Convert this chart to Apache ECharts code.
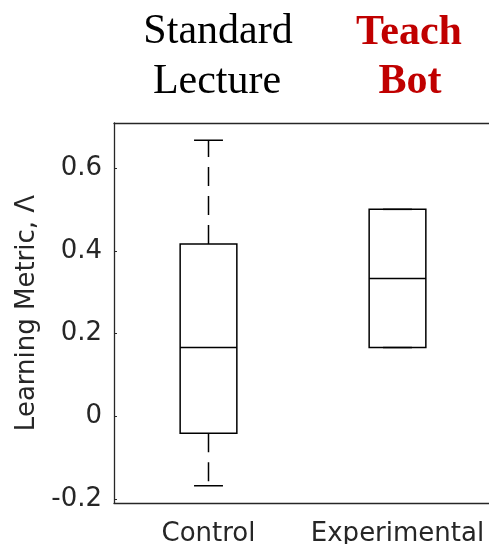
<!DOCTYPE html>
<html>
<head>
<meta charset="utf-8">
<script src="https://cdn.jsdelivr.net/npm/echarts@6/dist/echarts.min.js"></script>
<style>html,body{margin:0;padding:0;background:#fff;}#c{width:489px;height:544px;}</style>
</head>
<body>
<div id="c"></div>
<script>
// Data
var categories = ['Control', 'Experimental'];
var mins    = [-0.1667, 0.1667];
var q1s     = [-0.04,   0.1667];
var medians = [0.1667,  0.3333];
var q3s     = [0.4167,  0.5];
var maxs    = [0.6667,  0.5];
var yTicks  = [-0.2, 0, 0.2, 0.4, 0.6];
var yMin = -0.2083, yMax = 0.7083;

var data = categories.map(function (c, i) {
  return [i, mins[i], q1s[i], medians[i], q3s[i], maxs[i]];
});

var chart = echarts.init(document.getElementById('c'), null, {renderer: 'canvas'});
var axisColor = '#262626';
var font = 'DejaVu Sans';

function renderItem(params, api) {
  var i = api.value(0);
  var vMin = api.value(1), vQ1 = api.value(2), vMed = api.value(3), vQ3 = api.value(4), vMax = api.value(5);
  var x = api.coord([i, vMed])[0];
  var band = api.size([1, 0])[0];
  var bw = band * 0.3, cw = band * 0.153;
  var yMinP = api.coord([i, vMin])[1];
  var yQ1 = api.coord([i, vQ1])[1];
  var yMed = api.coord([i, vMed])[1];
  var yQ3 = api.coord([i, vQ3])[1];
  var yMaxP = api.coord([i, vMax])[1];
  var solid = {stroke: '#000', lineWidth: 1.5, fill: null};
  var dashed = {stroke: '#000', lineWidth: 1.5, lineDash: [19, 10]};
  var children = [];
  if (yQ3 - yMaxP > 0.5) {
    children.push({type: 'line', shape: {x1: x, y1: yQ3, x2: x, y2: yMaxP}, style: dashed});
  }
  if (yMinP - yQ1 > 0.5) {
    children.push({type: 'line', shape: {x1: x, y1: yQ1, x2: x, y2: yMinP}, style: dashed});
  }
  children.push({type: 'line', shape: {x1: x - cw / 2, y1: yMaxP, x2: x + cw / 2, y2: yMaxP}, style: solid});
  children.push({type: 'line', shape: {x1: x - cw / 2, y1: yMinP, x2: x + cw / 2, y2: yMinP}, style: solid});
  children.push({type: 'rect', shape: {x: x - bw / 2, y: yQ3, width: bw, height: yQ1 - yQ3}, style: {stroke: '#000', lineWidth: 1.5, fill: 'rgba(0,0,0,0)'}});
  children.push({type: 'line', shape: {x1: x - bw / 2, y1: yMed, x2: x + bw / 2, y2: yMed}, style: solid});
  return {type: 'group', children: children};
}

var option = {
  backgroundColor: '#fff',
  animation: false,
  grid: {left: 114, top: 123, width: 378, height: 380, containLabel: false, outerBoundsMode: 'none'},
  xAxis: [{
    type: 'category', data: categories, position: 'bottom',
    axisLine: {onZero: false, lineStyle: {color: axisColor, width: 1.3}},
    axisTick: {inside: true, length: 3, alignWithLabel: true, lineStyle: {color: axisColor}},
    axisLabel: {color: axisColor, fontFamily: font, fontSize: 26, margin: 18, interval: 0, hideOverlap: false},
    splitLine: {show: false}
  }, {
    type: 'category', data: categories, position: 'top',
    axisLine: {onZero: false, lineStyle: {color: axisColor, width: 1.3}},
    axisTick: {inside: true, length: 3, alignWithLabel: true, lineStyle: {color: axisColor}},
    axisLabel: {show: false}, splitLine: {show: false}
  }],
  yAxis: [{
    type: 'value', min: yMin, max: yMax, position: 'left',
    axisLine: {show: true, onZero: false, lineStyle: {color: axisColor, width: 1.3}},
    axisTick: {show: true, inside: true, length: 3, lineStyle: {color: axisColor},
      customValues: yTicks},
    axisLabel: {color: axisColor, fontFamily: font, fontSize: 26, margin: 12,
      customValues: yTicks,
      formatter: function (v) { return Math.abs(v) < 1e-9 ? '0' : String(Math.round(v * 10) / 10); }},
    splitLine: {show: false},
    name: 'Learning Metric, Λ', nameLocation: 'middle', nameGap: 73,
    nameTextStyle: {color: axisColor, fontFamily: font, fontSize: 26}
  }, {
    type: 'value', min: yMin, max: yMax, position: 'right',
    axisLine: {show: true, onZero: false, lineStyle: {color: axisColor, width: 1.3}},
    axisTick: {show: true, inside: true, length: 3, lineStyle: {color: axisColor},
      customValues: yTicks},
    axisLabel: {show: false}, splitLine: {show: false}
  }],
  graphic: [
    {type: 'text', x: 218, y: 32, style: {text: 'Standard', textAlign: 'center', textVerticalAlign: 'middle', font: '42px "Liberation Serif"', fill: '#000'}},
    {type: 'text', x: 217, y: 82, style: {text: 'Lecture', textAlign: 'center', textVerticalAlign: 'middle', font: '42px "Liberation Serif"', fill: '#000'}},
    {type: 'text', x: 409, y: 33, style: {text: 'Teach', textAlign: 'center', textVerticalAlign: 'middle', font: 'bold 42px "Liberation Serif"', fill: '#C00000'}},
    {type: 'text', x: 410, y: 82, style: {text: 'Bot', textAlign: 'center', textVerticalAlign: 'middle', font: 'bold 42px "Liberation Serif"', fill: '#C00000'}}
  ],
  series: [{
    type: 'custom', renderItem: renderItem, data: data,
    encode: {x: 0, y: [1, 2, 3, 4, 5]}, xAxisIndex: 0, yAxisIndex: 0, clip: false
  }]
};
chart.setOption(option);
</script>
</body>
</html>
